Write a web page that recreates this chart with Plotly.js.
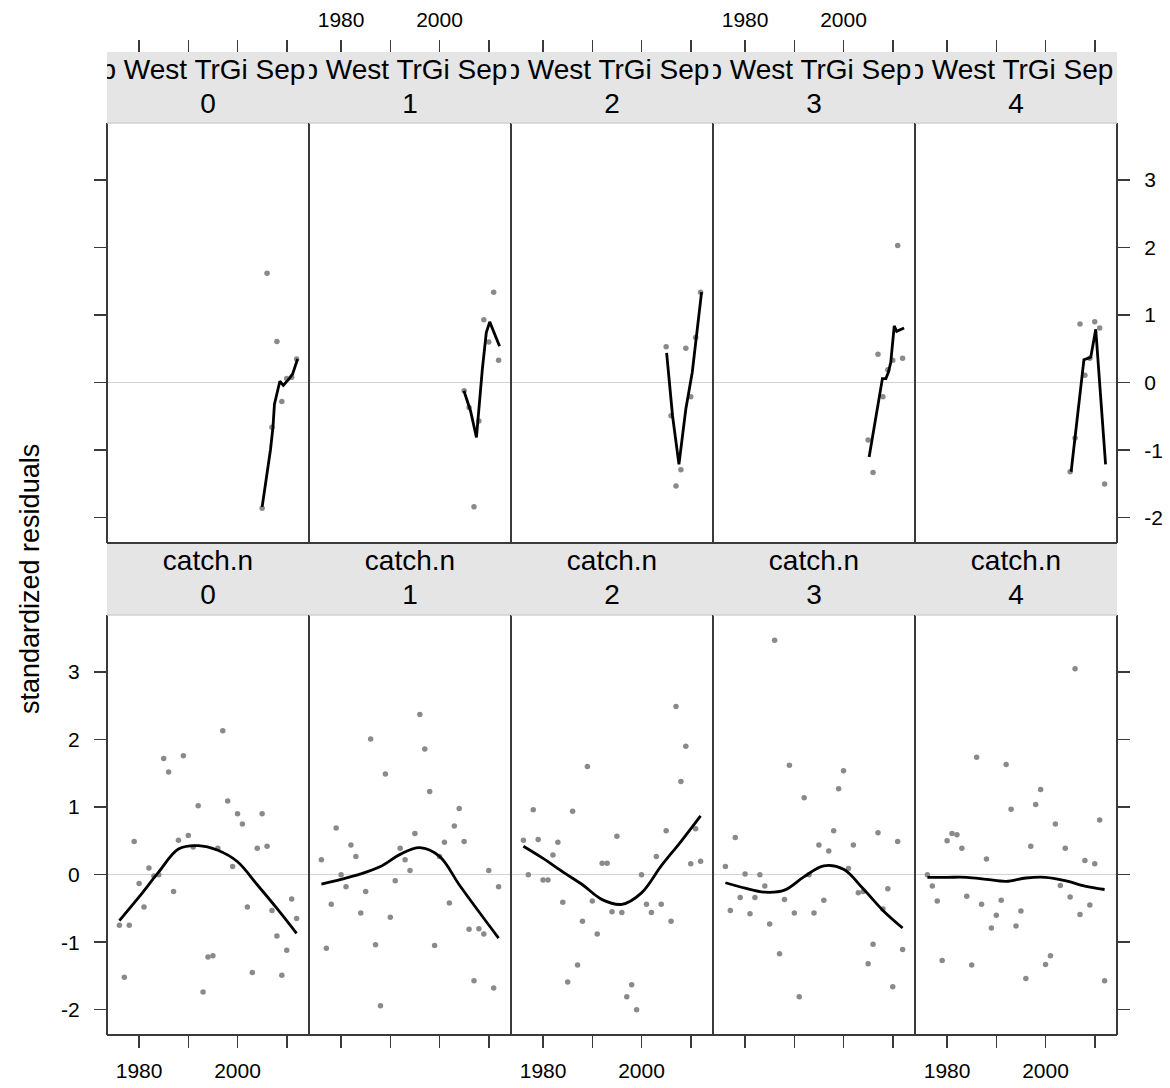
<!DOCTYPE html>
<html><head><meta charset="utf-8">
<script src="https://cdn.plot.ly/plotly-3.0.1.min.js"></script>
<style>html,body{margin:0;padding:0;background:#fff}#chart{width:1170px;height:1088px}</style>
</head><body><div id="chart"></div>
<script>
// ---------------- data ----------------
const panelLabels = ['0', '1', '2', '3', '4'];
const stripTopText = 'p West TrGi Sep';
const stripBottomText = 'catch.n';
const yTitleText = 'standardized residuals';
const xTickVals = [1980, 1990, 2000, 2010];
const xTickText = ['1980', '', '2000', ''];
const yTickVals = [-2, -1, 0, 1, 2, 3];

// bottom row: catch.n residuals
const catchYears = [1976,1977,1978,1979,1980,1981,1982,1983,1984,1985,1986,1987,1988,1989,1990,1991,1992,1993,1994,1995,1996,1997,1998,1999,2000,2001,2002,2003,2004,2005,2006,2007,2008,2009,2010,2011,2012];
const catch0 = [-0.75,-1.52,-0.75,0.49,-0.13,-0.48,0.10,-0.02,0.00,1.72,1.52,-0.25,0.51,1.76,0.58,0.41,1.02,-1.74,-1.22,-1.20,0.39,2.13,1.09,0.12,0.90,0.75,-0.48,-1.45,0.39,0.90,0.42,-0.53,-0.91,-1.49,-1.12,-0.36,-0.65];
const catch1 = [0.22,-1.09,-0.44,0.69,0.00,-0.18,0.44,0.27,-0.57,-0.25,2.01,-1.04,-1.94,1.49,-0.63,-0.09,0.39,0.22,0.06,0.61,2.37,1.86,1.23,-1.05,0.27,0.48,-0.42,0.72,0.98,0.49,-0.81,-1.57,-0.80,-0.88,0.06,-1.68,-0.18];
const catch2 = [0.51,0.00,0.96,0.52,-0.08,-0.08,0.29,0.48,-0.41,-1.59,0.94,-1.34,-0.69,1.60,-0.39,-0.88,0.17,0.17,-0.55,0.57,-0.56,-1.81,-1.63,-2.00,0.00,-0.44,-0.56,0.27,-0.44,0.65,-0.69,2.49,1.38,1.90,0.16,0.68,0.20];
const catch3 = [0.12,-0.53,0.55,-0.34,0.01,-0.58,-0.34,0.00,-0.17,-0.73,3.47,-1.17,-0.37,1.62,-0.57,-1.81,1.14,0.00,-0.57,0.44,-0.38,0.35,0.65,1.27,1.54,0.09,0.44,-0.27,-0.25,-1.32,-1.03,0.62,-0.51,-0.21,-1.66,0.49,-1.11];
const catch4 = [0.00,-0.17,-0.39,-1.27,0.50,0.61,0.59,0.39,-0.32,-1.34,1.74,-0.44,0.23,-0.79,-0.60,-0.38,1.63,0.97,-0.76,-0.54,-1.54,0.42,1.04,1.26,-1.33,-1.20,0.75,-0.16,0.39,-0.33,3.05,-0.59,0.21,-0.45,0.16,0.81,-1.57];

// smoother (catch.n)
const catchFitYears = [1976,1980,1984,1988,1992,1996,2000,2004,2008,2012];
const catchFit0 = [-0.68,-0.33,0.04,0.38,0.43,0.36,0.19,-0.15,-0.50,-0.87];
const catchFit1 = [-0.14,-0.07,0.01,0.12,0.30,0.40,0.27,-0.15,-0.55,-0.94];
const catchFit2 = [0.42,0.24,0.04,-0.15,-0.37,-0.44,-0.27,0.13,0.49,0.87];
const catchFit3 = [-0.12,-0.20,-0.26,-0.23,-0.03,0.13,0.08,-0.21,-0.53,-0.79];
const catchFit4 = [-0.04,-0.04,-0.04,-0.07,-0.10,-0.05,-0.04,-0.09,-0.17,-0.22];

// top row: survey index residuals
const indexYears = [2005,2006,2007,2008,2009,2010,2011,2012];
const index0 = [-1.86,1.62,-0.66,0.61,-0.28,0.06,0.08,0.35];
const index1 = [-0.12,-0.37,-1.84,-0.57,0.93,0.60,1.34,0.33];
const index2 = [0.53,-0.49,-1.53,-1.29,0.51,-0.21,0.67,1.34];
const index3 = [-0.85,-1.33,0.42,-0.21,0.19,0.33,2.03,0.36];
const index4 = [-1.32,-0.82,0.87,0.11,0.36,0.90,0.81,-1.50];

// smoother (index)
const indexFitX0 = [2005.0,2006.7,2007.2,2007.5,2008.6,2009.3,2010.5,2011.2,2012.2];
const indexFitY0 = [-1.84,-0.99,-0.66,-0.32,0.02,-0.04,0.06,0.13,0.35];
const indexFitX1 = [2004.95,2006.3,2007.5,2008.0,2008.7,2009.5,2010.2,2012.2];
const indexFitY1 = [-0.12,-0.42,-0.81,-0.39,0.20,0.74,0.90,0.54];
const indexFitX2 = [2005.1,2006.3,2007.6,2009.0,2010.3,2011.2,2012.2];
const indexFitY2 = [0.44,-0.49,-1.21,-0.39,0.15,0.69,1.34];
const indexFitX3 = [2005.2,2007.9,2008.6,2009.1,2009.6,2010.3,2010.8,2011.6,2012.3];
const indexFitY3 = [-1.10,0.06,0.06,0.15,0.30,0.84,0.76,0.79,0.81];
const indexFitX4 = [2005.2,2007.8,2009.0,2009.2,2010.2,2012.2];
const indexFitY4 = [-1.32,0.34,0.37,0.38,0.79,-1.21];

const catchSeries = [catch0, catch1, catch2, catch3, catch4];
const catchFits = [catchFit0, catchFit1, catchFit2, catchFit3, catchFit4];
const indexSeries = [index0, index1, index2, index3, index4];
const indexFitXs = [indexFitX0, indexFitX1, indexFitX2, indexFitX3, indexFitX4];
const indexFitYs = [indexFitY0, indexFitY1, indexFitY2, indexFitY3, indexFitY4];

// ---------------- layout ----------------
const W = 1170, H = 1088, ML = 107, MR = 53, MT = 52, MB = 53;
const plotH = H - MT - MB;
const fy = p => (H - MB - p) / plotH;
const xRange = [1973.48, 2014.52];
const yRange = [-2.375, 3.845];
const FONT = 'Liberation Sans, Arial, Helvetica, sans-serif';
const tickFont = {family: FONT, size: 21, color: '#000'};
const stripFont = {family: FONT, size: 28, color: '#000'};
const AX = '#3a3a3a';

const botPanel = [0, fy(615)];
const botStrip = [fy(615), fy(543)];
const topPanel = [fy(543), fy(123)];
const topStrip = [fy(123), 1];

const layout = {
  width: W, height: H,
  margin: {l: ML, r: MR, t: MT, b: MB},
  paper_bgcolor: '#fff', plot_bgcolor: 'rgba(0,0,0,0)',
  showlegend: false,
  font: {family: FONT, size: 21, color: '#000'},
  shapes: [], annotations: []
};
const traces = [];

function baseX(i) {
  return {domain: [i * 0.2, (i + 1) * 0.2], range: xRange, showgrid: false, zeroline: false,
    showline: false, tickvals: xTickVals, ticktext: xTickText, ticks: 'outside', ticklen: 12,
    tickwidth: 1.5, tickcolor: AX, tickfont: tickFont, ticklabelstandoff: 5, fixedrange: true};
}
function baseY(dom) {
  return {domain: dom, range: yRange, showgrid: false, zeroline: true, zerolinecolor: '#d2d2d2',
    zerolinewidth: 1.2, showline: false, tickvals: yTickVals, ticktext: yTickVals.map(String),
    tickfont: tickFont, ticklen: 12, tickwidth: 1.5, tickcolor: AX, ticklabelstandoff: 10, fixedrange: true};
}

for (let i = 0; i < 5; i++) {
  // bottom row (catch.n)
  const kb = i + 1;
  layout['xaxis' + kb] = Object.assign(baseX(i), {anchor: 'y' + kb, side: 'bottom',
    showticklabels: i % 2 === 0});
  layout['yaxis' + kb] = Object.assign(baseY(botPanel), {anchor: 'x' + kb,
    side: i === 4 ? 'right' : 'left', ticks: (i === 0 || i === 4) ? 'outside' : '',
    showticklabels: i === 0});
  traces.push({x: catchYears, y: catchSeries[i], xaxis: 'x' + kb, yaxis: 'y' + kb, type: 'scatter',
    mode: 'markers', marker: {size: 5.5, color: '#8a8a8a'}, hoverinfo: 'skip', cliponaxis: false});
  traces.push({x: catchFitYears, y: catchFits[i], xaxis: 'x' + kb, yaxis: 'y' + kb, type: 'scatter',
    mode: 'lines', line: {color: '#000', width: 2.8, shape: 'spline', smoothing: 1}, hoverinfo: 'skip'});

  // top row (index)
  const kt = i + 6;
  layout['xaxis' + kt] = Object.assign(baseX(i), {anchor: 'free', position: 1, side: 'top',
    showticklabels: i % 2 === 1});
  layout['yaxis' + kt] = Object.assign(baseY(topPanel), {anchor: 'x' + kt,
    side: i === 4 ? 'right' : 'left', ticks: (i === 0 || i === 4) ? 'outside' : '',
    showticklabels: i === 4});
  traces.push({x: indexYears, y: indexSeries[i], xaxis: 'x' + kt, yaxis: 'y' + kt, type: 'scatter',
    mode: 'markers', marker: {size: 5.5, color: '#8a8a8a'}, hoverinfo: 'skip', cliponaxis: false});
  traces.push({x: indexFitXs[i], y: indexFitYs[i], xaxis: 'x' + kt, yaxis: 'y' + kt, type: 'scatter',
    mode: 'lines', line: {color: '#000', width: 2.8}, hoverinfo: 'skip'});

  // strips (own clipped subplots)
  const ksb = i + 11, kst = i + 16;
  [[ksb, botStrip], [kst, topStrip]].forEach(([k, dom]) => {
    layout['xaxis' + k] = {domain: [i * 0.2, (i + 1) * 0.2], range: [0, 1], visible: false, anchor: 'y' + k, fixedrange: true};
    layout['yaxis' + k] = {domain: dom, range: [0, 1], visible: false, anchor: 'x' + k, fixedrange: true};
  });
  traces.push({x: [0.5, 0.5], y: [0.72, 0.25], text: [stripBottomText, panelLabels[i]], mode: 'text',
    textposition: 'middle center', textfont: stripFont, xaxis: 'x' + ksb, yaxis: 'y' + ksb,
    type: 'scatter', cliponaxis: true, hoverinfo: 'skip'});
  traces.push({x: [0.982], y: [0.72], text: [stripTopText], mode: 'text', marker: {size: 1},
    textposition: 'middle left', textfont: stripFont, xaxis: 'x' + kst, yaxis: 'y' + kst,
    type: 'scatter', cliponaxis: true, hoverinfo: 'skip'});
  traces.push({x: [0.5], y: [0.24], text: [panelLabels[i]], mode: 'text',
    textposition: 'middle center', textfont: stripFont, xaxis: 'x' + kst, yaxis: 'y' + kst,
    type: 'scatter', cliponaxis: true, hoverinfo: 'skip'});
}

// strip backgrounds
layout.shapes.push({type: 'rect', xref: 'paper', yref: 'paper', x0: 0, x1: 1, y0: topStrip[0], y1: topStrip[1],
  fillcolor: '#e5e5e5', line: {width: 0}, layer: 'below'});
layout.shapes.push({type: 'rect', xref: 'paper', yref: 'paper', x0: 0, x1: 1, y0: botStrip[0], y1: botStrip[1],
  fillcolor: '#e5e5e5', line: {width: 0}, layer: 'below'});
// panel borders
for (let i = 0; i < 5; i++) {
  [botPanel, topPanel].forEach(dom => {
    const x0 = i * 0.2, x1 = (i + 1) * 0.2;
    [[x0, dom[0], x0, dom[1]], [x1, dom[0], x1, dom[1]], [x0, dom[0], x1, dom[0]]].forEach(([a, b, c, d]) => {
      layout.shapes.push({type: 'line', xref: 'paper', yref: 'paper', x0: a, y0: b, x1: c, y1: d,
        line: {color: AX, width: 2}, layer: 'above'});
    });
    layout.shapes.push({type: 'line', xref: 'paper', yref: 'paper', x0: x0, y0: dom[1], x1: x1, y1: dom[1],
      line: {color: '#d0d0d0', width: 1.5}, layer: 'above'});
  });
}

layout.annotations.push({text: yTitleText, xref: 'paper', yref: 'paper', x: (30 - ML) / (W - ML - MR),
  y: fy(579), xanchor: 'center', yanchor: 'middle', textangle: -90, showarrow: false,
  font: {family: FONT, size: 27, color: '#000'}});

Plotly.newPlot('chart', traces, layout, {staticPlot: true, displayModeBar: false});
</script></body></html>
